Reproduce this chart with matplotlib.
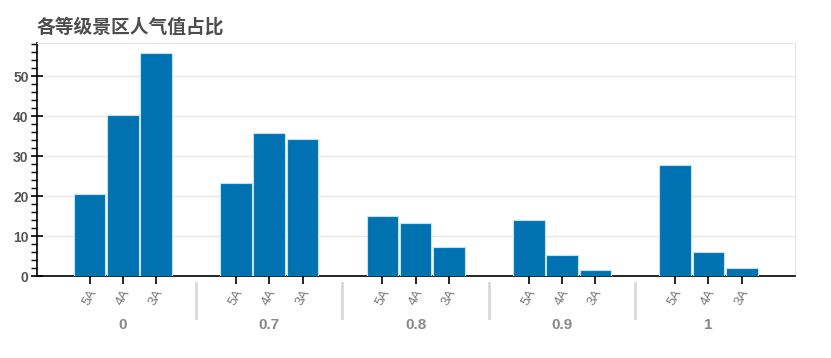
import numpy as np
import matplotlib.pyplot as plt
from matplotlib.ticker import MultipleLocator
from matplotlib.transforms import blended_transform_factory

plt.rcParams['font.family'] = ['Noto Sans CJK SC', 'DejaVu Sans']

# ------------------ Datos ------------------
grupos = ['0', '0.7', '0.8', '0.9', '1']
niveles = ['5A', '4A', '3A']
valores = [
    [20.5, 40.25, 55.75],
    [23.25, 35.75, 34.25],
    [15.0, 13.25, 7.25],
    [14.0, 5.25, 1.5],
    [27.75, 6.0, 2.0],
]
titulo = '各等级景区人气值占比'

# ------------------ Figura ------------------
W, H = 831, 358
fig = plt.figure(figsize=(W / 100, H / 100), dpi=100)
ax = fig.add_axes([37 / W, 82 / H, (795 - 37) / W, (276 - 43) / H])

pad = 1.4  # separación entre grupos (estilo bokeh)
n = len(niveles)
xs, ys = [], []
for g, fila in enumerate(valores):
    for k, v in enumerate(fila):
        xs.append(0.5 + g * (n + pad) + k)
        ys.append(v)

ax.bar(xs, ys, width=0.95, color='#0072B2', edgecolor='#bfe3f5', linewidth=0.8, zorder=3)

ax.set_xlim(xs[0] - 1.58, xs[-1] + 1.6)
ax.set_ylim(0, 58.25)

# Grid y bordes
ax.yaxis.set_major_locator(MultipleLocator(10))
ax.yaxis.set_minor_locator(MultipleLocator(2))
ax.grid(axis='y', color='#e8e8e8', lw=1, zorder=0)
for s in ['top', 'right']:
    ax.spines[s].set_color('#e5e5e5')
ax.spines['left'].set_color('black')
ax.spines['bottom'].set_color('black')
ax.spines['left'].set_linewidth(1.2)
ax.spines['bottom'].set_linewidth(1.2)

ax.tick_params(axis='y', which='major', direction='inout', length=8, width=1.2,
               labelsize=10, labelcolor='#555555', pad=2)
ax.tick_params(axis='y', which='minor', direction='out', length=4, width=1)
for lbl in ax.get_yticklabels():
    lbl.set_fontweight('bold')
    lbl.set_family('Liberation Sans')

# Eje x categórico anidado
ax.set_xticks(xs)
ax.set_xticklabels([])
ax.tick_params(axis='x', direction='out', length=6, width=1.2)

trans = blended_transform_factory(ax.transData, ax.transAxes)
for g, grupo in enumerate(grupos):
    for k, nivel in enumerate(niveles):
        x = 0.5 + g * (n + pad) + k
        ax.text(x, -0.094, nivel, transform=trans, rotation=60, ha='center', va='center',
                fontsize=9.5, color='#777777', family='Liberation Sans')
    xc = 0.5 + g * (n + pad) + (n - 1) / 2
    ax.text(xc, -0.21, grupo, transform=trans, ha='center', va='center',
            fontsize=11, fontweight='bold', color='#888888', family='Liberation Sans')
    if g < len(grupos) - 1:
        xsep = 0.5 + g * (n + pad) + (n - 1) + 0.5 + pad / 2
        ax.plot([xsep, xsep], [-0.03, -0.18], transform=trans, color='#d8d8d8',
                lw=2, clip_on=False)

fig.text(37 / W, 1 - 27 / H, titulo, fontsize=13.5, fontweight='bold', color='#4d4d4d',
         ha='left', va='center')

fig.savefig('out.png', dpi=100, facecolor='white')
